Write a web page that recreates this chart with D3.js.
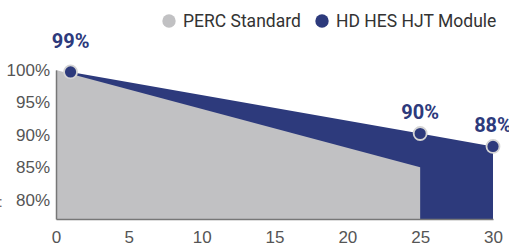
<!DOCTYPE html>
<html>
<head>
<meta charset="utf-8">
<script src="https://cdn.jsdelivr.net/npm/d3@7"></script>
<style>
  body { margin: 0; background: #fff; }
  svg { display: block; font-family: Roboto, "Noto Sans", sans-serif; }
  .axis .domain { stroke: #777; stroke-width: 1.5; }
  .axis text { fill: #555; font-size: 17px; }
</style>
</head>
<body>
<div class="chart"></div>
<script>
// Data (years, module output %)
const percYears = [0, 25];
const percValues = [100, 85];
const hjtYears = [1, 25, 30];
const hjtValues = [99.7, 90.2, 88.2];
const hjtLabels = ['99%', '90%', '88%'];
const xTicks = [0, 5, 10, 15, 20, 25, 30];
const yTicks = [80, 85, 90, 95, 100];
const seriesNames = ['PERC Standard', 'HD HES HJT Module'];
const seriesColors = ['#c1c1c3', '#2d3a7c'];

const width = 509, height = 247;
const margin = {left: 56, right: 16, top: 70, bottom: 28};

const svg = d3.select('.chart')
              .append('svg')
              .attr('width', width)
              .attr('height', height);

const x = d3.scaleLinear()
            .domain([0, 30])
            .range([margin.left, width - margin.right]);
const y = d3.scaleLinear()
            .domain([77, 100])
            .range([height - margin.bottom, margin.top]);

const yBase = 77;
const perc = percYears.map((d, i) => ({year: d, value: percValues[i]}));
const hjt = hjtYears.map((d, i) => ({year: d, value: hjtValues[i], label: hjtLabels[i]}));

const area = d3.area()
               .x(d => x(d.year))
               .y0(y(yBase))
               .y1(d => y(d.value));

// HJT area first, PERC drawn over it
svg.append('path')
   .datum(hjt)
   .attr('fill', seriesColors[1])
   .attr('d', area);

svg.append('path')
   .datum(perc)
   .attr('fill', seriesColors[0])
   .attr('d', area);

// Axes
svg.append('g')
   .attr('class', 'axis x-axis')
   .attr('transform', `translate(0,${y(yBase)})`)
   .call(d3.axisBottom(x).tickValues(xTicks).tickSize(0).tickPadding(12).tickSizeOuter(0));

svg.append('g')
   .attr('class', 'axis y-axis')
   .attr('transform', `translate(${margin.left},0)`)
   .call(d3.axisLeft(y).tickValues(yTicks).tickSize(0).tickPadding(6)
           .tickSizeOuter(0).tickFormat(d => d + '%'));

svg.selectAll('.axis text').attr('font-family', null);

// Markers and value labels
svg.selectAll('.marker')
   .data(hjt)
   .join('circle')
   .attr('class', 'marker')
   .attr('cx', d => x(d.year))
   .attr('cy', d => y(d.value))
   .attr('r', 6.5)
   .attr('fill', seriesColors[1])
   .attr('stroke', '#d4d4d4')
   .attr('stroke-width', 1.8);

svg.selectAll('.value-label')
   .data(hjt)
   .join('text')
   .attr('class', 'value-label')
   .attr('x', d => x(d.year))
   .attr('y', (d, i) => y(d.value) - (i == 0 ? 24 : 14))
   .attr('text-anchor', 'middle')
   .attr('font-size', 20)
   .attr('font-weight', 'bold')
   .attr('fill', seriesColors[1])
   .text(d => d.label);

// Legend
const legendX = [169, 322];
const legend = svg.selectAll('.legend')
                  .data(seriesNames)
                  .join('g')
                  .attr('class', 'legend')
                  .attr('transform', (d, i) => `translate(${legendX[i]},21)`);

legend.append('circle')
      .attr('r', 6.7)
      .attr('fill', (d, i) => seriesColors[i]);

legend.append('text')
      .attr('x', 14)
      .attr('y', 6.3)
      .attr('font-size', 17.5)
      .attr('fill', '#333')
      .text(d => d);

// cut-off text at the left edge
svg.append('text')
   .attr('x', -1)
   .attr('y', 207)
   .attr('font-size', 14)
   .attr('fill', '#555')
   .text(':');
</script>
</body>
</html>
